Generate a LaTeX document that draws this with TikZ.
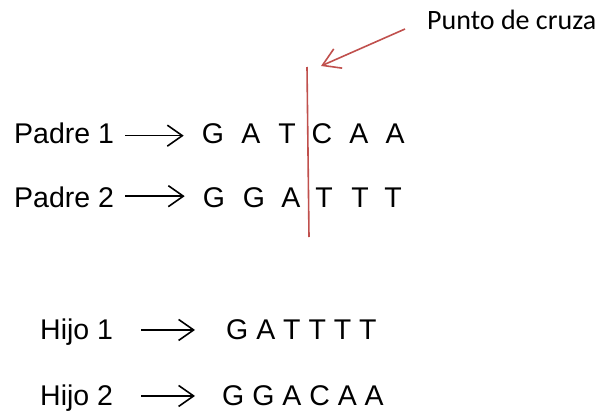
\documentclass[tikz,border=0pt]{standalone}
\usepackage{fontspec}
\setmainfont{Liberation Sans}
\newfontfamily\notefont{Carlito}
\usetikzlibrary{arrows.meta}
\definecolor{cutred}{RGB}{192,80,77}
\tikzset{
  lbl/.style={inner sep=0pt, anchor=base west, font=\fontsize{28.5}{30}\selectfont},
  base/.style={inner sep=0pt, anchor=base, font=\fontsize{28.5}{30}\selectfont},
  seqarrow/.style={line width=1.6pt, -{Straight Barb[length=15pt,width=21pt,line width=1.6pt]}},
  cutarrow/.style={cutred, line width=1.6pt, -{Straight Barb[length=17pt,width=21pt,line width=1.6pt]}},
}
\begin{document}
\begin{tikzpicture}[x=1pt,y=-1pt]
\useasboundingbox (0,0) rectangle (605,410);

% parents
\node[lbl] (p1) at (14,143) {Padre 1};
\node[lbl] (p2) at (14,207.5) {Padre 2};
\foreach \c/\x [count=\i] in {G/213,A/251,T/287,C/322,A/359,A/395}
  \node[base] (a\i) at (\x,143) {\c};
\foreach \c/\x [count=\i] in {G/214,G/254,A/291,T/324,T/360,T/393}
  \node[base] (b\i) at (\x,207.5) {\c};
\draw[seqarrow, shorten <=11pt, shorten >=18pt] ([yshift=4.7pt]p1.mid east) -- ([yshift=4.7pt]a1.mid west);
\draw[seqarrow, shorten <=11pt, shorten >=18pt] ([yshift=8.7pt]p2.mid east) -- ([yshift=8.7pt]b1.mid west);

% crossover point
\coordinate (cuttop) at (307,67);
\coordinate (cutbot) at (309,237);
\draw[cutred, line width=1.6pt] (cuttop) -- (cutbot);
\node[inner sep=0pt, anchor=base west, font=\notefont\fontsize{28}{30}\selectfont] (note) at (427,29) {Punto de cruza};
\coordinate (ptrstart) at (405,29);
\coordinate (ptrtip) at (321,66);
\draw[cutarrow] (ptrstart) -- (ptrtip);

% offspring
\node[lbl] (h1) at (40,339) {Hijo 1};
\node[lbl] (h2) at (40,405) {Hijo 2};
\node[lbl] (s1) at (226,339) {G A T T T T};
\node[lbl] (s2) at (222,405) {G G A C A A};
\draw[seqarrow, shorten <=28pt, shorten >=31pt] ([yshift=6.4pt]h1.mid east) -- ([yshift=6.4pt]s1.mid west);
\draw[seqarrow, shorten <=28pt, shorten >=27pt] ([yshift=6.4pt]h2.mid east) -- ([yshift=6.4pt]s2.mid west);
\end{tikzpicture}
\end{document}
